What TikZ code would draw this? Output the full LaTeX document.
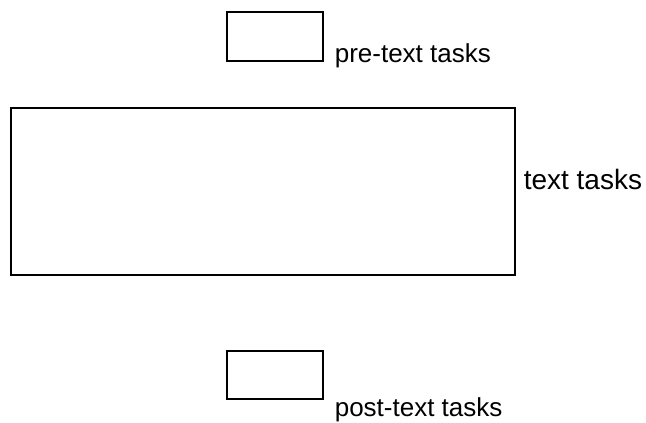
\documentclass[tikz,border=0pt]{standalone}
\usepackage{fontspec}
\setmainfont{Liberation Sans}
\usepackage{tikz}

\begin{document}
\begin{tikzpicture}[x=1pt, y=-1pt, line width=1.6pt,
    taskbox/.style={draw, rectangle, inner sep=0pt, anchor=north west},
    tasklabel/.style={anchor=base west, inner sep=0pt, font=\fontsize{26}{31}\selectfont}]
  \useasboundingbox (0,0) rectangle (646,423);
  \node [taskbox, minimum width=96pt, minimum height=49pt] (pre) at (226,11) {};
  \node [taskbox, minimum width=504pt, minimum height=167pt] (text) at (10,107) {};
  \node [taskbox, minimum width=96pt, minimum height=48pt] (post) at (226,350) {};
  \node [tasklabel] (prelabel) at (334,62) {pre-text tasks};
  \node [tasklabel, font=\fontsize{28}{33}\selectfont] (textlabel) at (523,189) {text tasks};
  \node [tasklabel] (postlabel) at (334,416) {post-text tasks};
\end{tikzpicture}
\end{document}
